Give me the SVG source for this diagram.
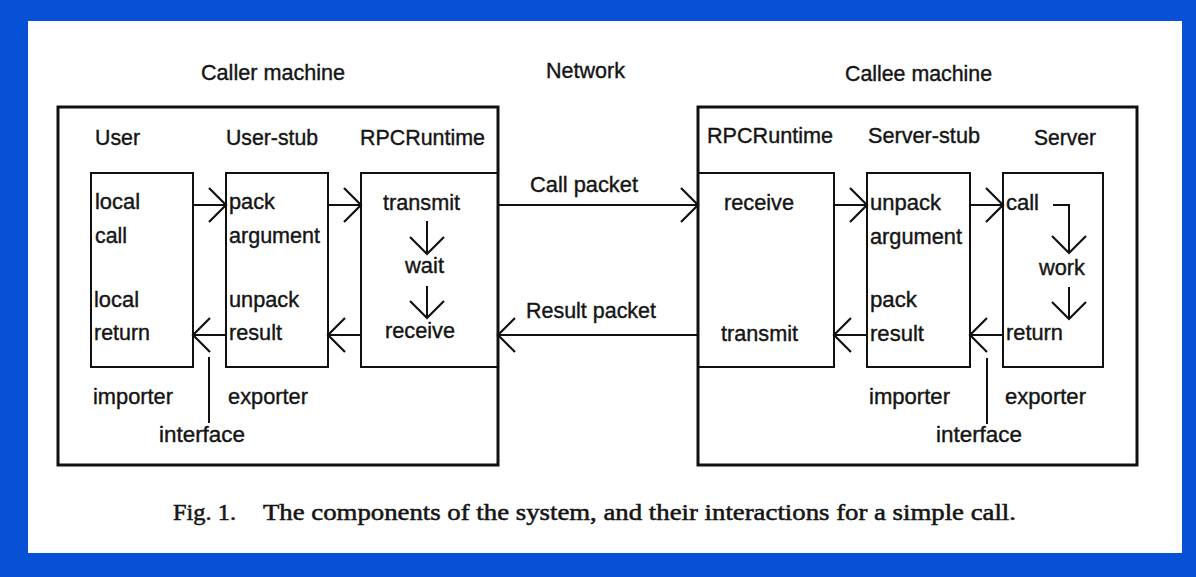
<svg xmlns="http://www.w3.org/2000/svg" width="1196" height="577" viewBox="0 0 1196 577">
<style>
.t{font-family:"Liberation Sans",Arial,sans-serif;font-size:22.5px;fill:#151515;stroke:#151515;stroke-width:0.4;}
.cap{font-family:"Liberation Serif","Times New Roman",serif;font-size:24px;fill:#151515;stroke:#151515;stroke-width:0.55;}
.outer{fill:none;stroke:#111;stroke-width:3;}
.inner{fill:none;stroke:#111;stroke-width:2;}
.c{fill:none;stroke:#111;stroke-width:2;}
</style>
<defs>
<marker id="ah" markerUnits="userSpaceOnUse" markerWidth="22" markerHeight="38" refX="18" refY="18" orient="auto">
<path d="M1,1 L18,18 L1,35" fill="none" stroke="#111" stroke-width="2.2"/>
</marker>
</defs>
<rect x="0" y="0" width="1196" height="577" fill="#0751d6"/>
<rect x="28" y="21" width="1154" height="532" fill="#ffffff"/>

<g id="headers">
<text class="t" x="201" y="80" textLength="144" lengthAdjust="spacingAndGlyphs">Caller machine</text>
<text class="t" x="546" y="78" textLength="79" lengthAdjust="spacingAndGlyphs">Network</text>
<text class="t" x="845" y="81" textLength="147" lengthAdjust="spacingAndGlyphs">Callee machine</text>
</g>

<g id="caller-machine">
<rect class="outer" x="58" y="107" width="440" height="358"/>
</g>
<g id="user">
<text class="t" x="95" y="145" textLength="45" lengthAdjust="spacingAndGlyphs">User</text>
<rect class="inner" x="91" y="173" width="102" height="194"/>
<text class="t" x="95" y="209" textLength="45" lengthAdjust="spacingAndGlyphs">local</text>
<text class="t" x="95" y="243" textLength="32" lengthAdjust="spacingAndGlyphs">call</text>
<text class="t" x="94" y="307" textLength="45" lengthAdjust="spacingAndGlyphs">local</text>
<text class="t" x="94" y="340" textLength="56" lengthAdjust="spacingAndGlyphs">return</text>
<text class="t" x="93" y="404" textLength="80" lengthAdjust="spacingAndGlyphs">importer</text>
</g>
<g id="user-stub">
<text class="t" x="226" y="145" textLength="92" lengthAdjust="spacingAndGlyphs">User-stub</text>
<rect class="inner" x="226" y="173" width="102" height="194"/>
<text class="t" x="229" y="209" textLength="46" lengthAdjust="spacingAndGlyphs">pack</text>
<text class="t" x="229" y="243" textLength="91" lengthAdjust="spacingAndGlyphs">argument</text>
<text class="t" x="229" y="307" textLength="70" lengthAdjust="spacingAndGlyphs">unpack</text>
<text class="t" x="229" y="340" textLength="53" lengthAdjust="spacingAndGlyphs">result</text>
<text class="t" x="228" y="404" textLength="80" lengthAdjust="spacingAndGlyphs">exporter</text>
</g>
<g id="caller-rpcruntime">
<text class="t" x="360" y="145" textLength="125" lengthAdjust="spacingAndGlyphs">RPCRuntime</text>
<polyline class="inner" points="498,173 361,173 361,367 498,367"/>
<text class="t" x="383" y="210" textLength="77" lengthAdjust="spacingAndGlyphs">transmit</text>
<text class="t" x="405" y="273" textLength="39" lengthAdjust="spacingAndGlyphs">wait</text>
<text class="t" x="385" y="338" textLength="70" lengthAdjust="spacingAndGlyphs">receive</text>
</g>
<g id="caller-interface">
<text class="t" x="159" y="442" textLength="86" lengthAdjust="spacingAndGlyphs">interface</text>
</g>

<g id="callee-machine">
<rect class="outer" x="698" y="107" width="439" height="358"/>
</g>
<g id="callee-rpcruntime">
<text class="t" x="707" y="143" textLength="126" lengthAdjust="spacingAndGlyphs">RPCRuntime</text>
<polyline class="inner" points="698,173 834,173 834,367 698,367"/>
<text class="t" x="724" y="210" textLength="70" lengthAdjust="spacingAndGlyphs">receive</text>
<text class="t" x="721" y="341" textLength="77" lengthAdjust="spacingAndGlyphs">transmit</text>
</g>
<g id="server-stub">
<text class="t" x="868" y="143" textLength="112" lengthAdjust="spacingAndGlyphs">Server-stub</text>
<rect class="inner" x="867" y="173" width="103" height="194"/>
<text class="t" x="870" y="210" textLength="71" lengthAdjust="spacingAndGlyphs">unpack</text>
<text class="t" x="870" y="244" textLength="92" lengthAdjust="spacingAndGlyphs">argument</text>
<text class="t" x="870" y="307" textLength="47" lengthAdjust="spacingAndGlyphs">pack</text>
<text class="t" x="870" y="341" textLength="54" lengthAdjust="spacingAndGlyphs">result</text>
<text class="t" x="869" y="404" textLength="81" lengthAdjust="spacingAndGlyphs">importer</text>
</g>
<g id="server">
<text class="t" x="1034" y="145" textLength="62" lengthAdjust="spacingAndGlyphs">Server</text>
<rect class="inner" x="1003" y="173" width="100" height="194"/>
<text class="t" x="1006" y="210" textLength="33" lengthAdjust="spacingAndGlyphs">call</text>
<text class="t" x="1039" y="275" textLength="46" lengthAdjust="spacingAndGlyphs">work</text>
<text class="t" x="1006" y="340" textLength="57" lengthAdjust="spacingAndGlyphs">return</text>
<text class="t" x="1005" y="404" textLength="81" lengthAdjust="spacingAndGlyphs">exporter</text>
</g>
<g id="callee-interface">
<text class="t" x="936" y="442" textLength="86" lengthAdjust="spacingAndGlyphs">interface</text>
</g>

<g id="connectors">
<line class="c" x1="193" y1="205" x2="226" y2="205" marker-end="url(#ah)"/>
<line class="c" x1="328" y1="205" x2="361" y2="205" marker-end="url(#ah)"/>
<line class="c" x1="498" y1="205" x2="698" y2="205" marker-end="url(#ah)"/>
<line class="c" x1="834" y1="205" x2="867" y2="205" marker-end="url(#ah)"/>
<line class="c" x1="970" y1="205" x2="1003" y2="205" marker-end="url(#ah)"/>
<line class="c" x1="226" y1="335" x2="193" y2="335" marker-end="url(#ah)"/>
<line class="c" x1="361" y1="335" x2="328" y2="335" marker-end="url(#ah)"/>
<line class="c" x1="698" y1="335" x2="498" y2="335" marker-end="url(#ah)"/>
<line class="c" x1="867" y1="335" x2="834" y2="335" marker-end="url(#ah)"/>
<line class="c" x1="1003" y1="335" x2="970" y2="335" marker-end="url(#ah)"/>
<line class="c" x1="427" y1="221" x2="427" y2="254" marker-end="url(#ah)"/>
<line class="c" x1="427" y1="286" x2="427" y2="318" marker-end="url(#ah)"/>
<polyline class="c" points="1053,205 1069,205 1069,253" marker-end="url(#ah)"/>
<line class="c" x1="1069" y1="287" x2="1069" y2="319" marker-end="url(#ah)"/>
<line class="c" x1="209" y1="357" x2="209" y2="423"/>
<line class="c" x1="987" y1="358" x2="987" y2="424"/>
<text class="t" x="530" y="192" textLength="108" lengthAdjust="spacingAndGlyphs">Call packet</text>
<text class="t" x="526" y="318" textLength="130" lengthAdjust="spacingAndGlyphs">Result packet</text>
</g>

<g id="caption">
<text class="cap" x="173" y="520" textLength="63" lengthAdjust="spacingAndGlyphs">Fig. 1.</text>
<text class="cap" x="263" y="520" textLength="753" lengthAdjust="spacingAndGlyphs">The components of the system, and their interactions for a simple call.</text>
</g>
</svg>
